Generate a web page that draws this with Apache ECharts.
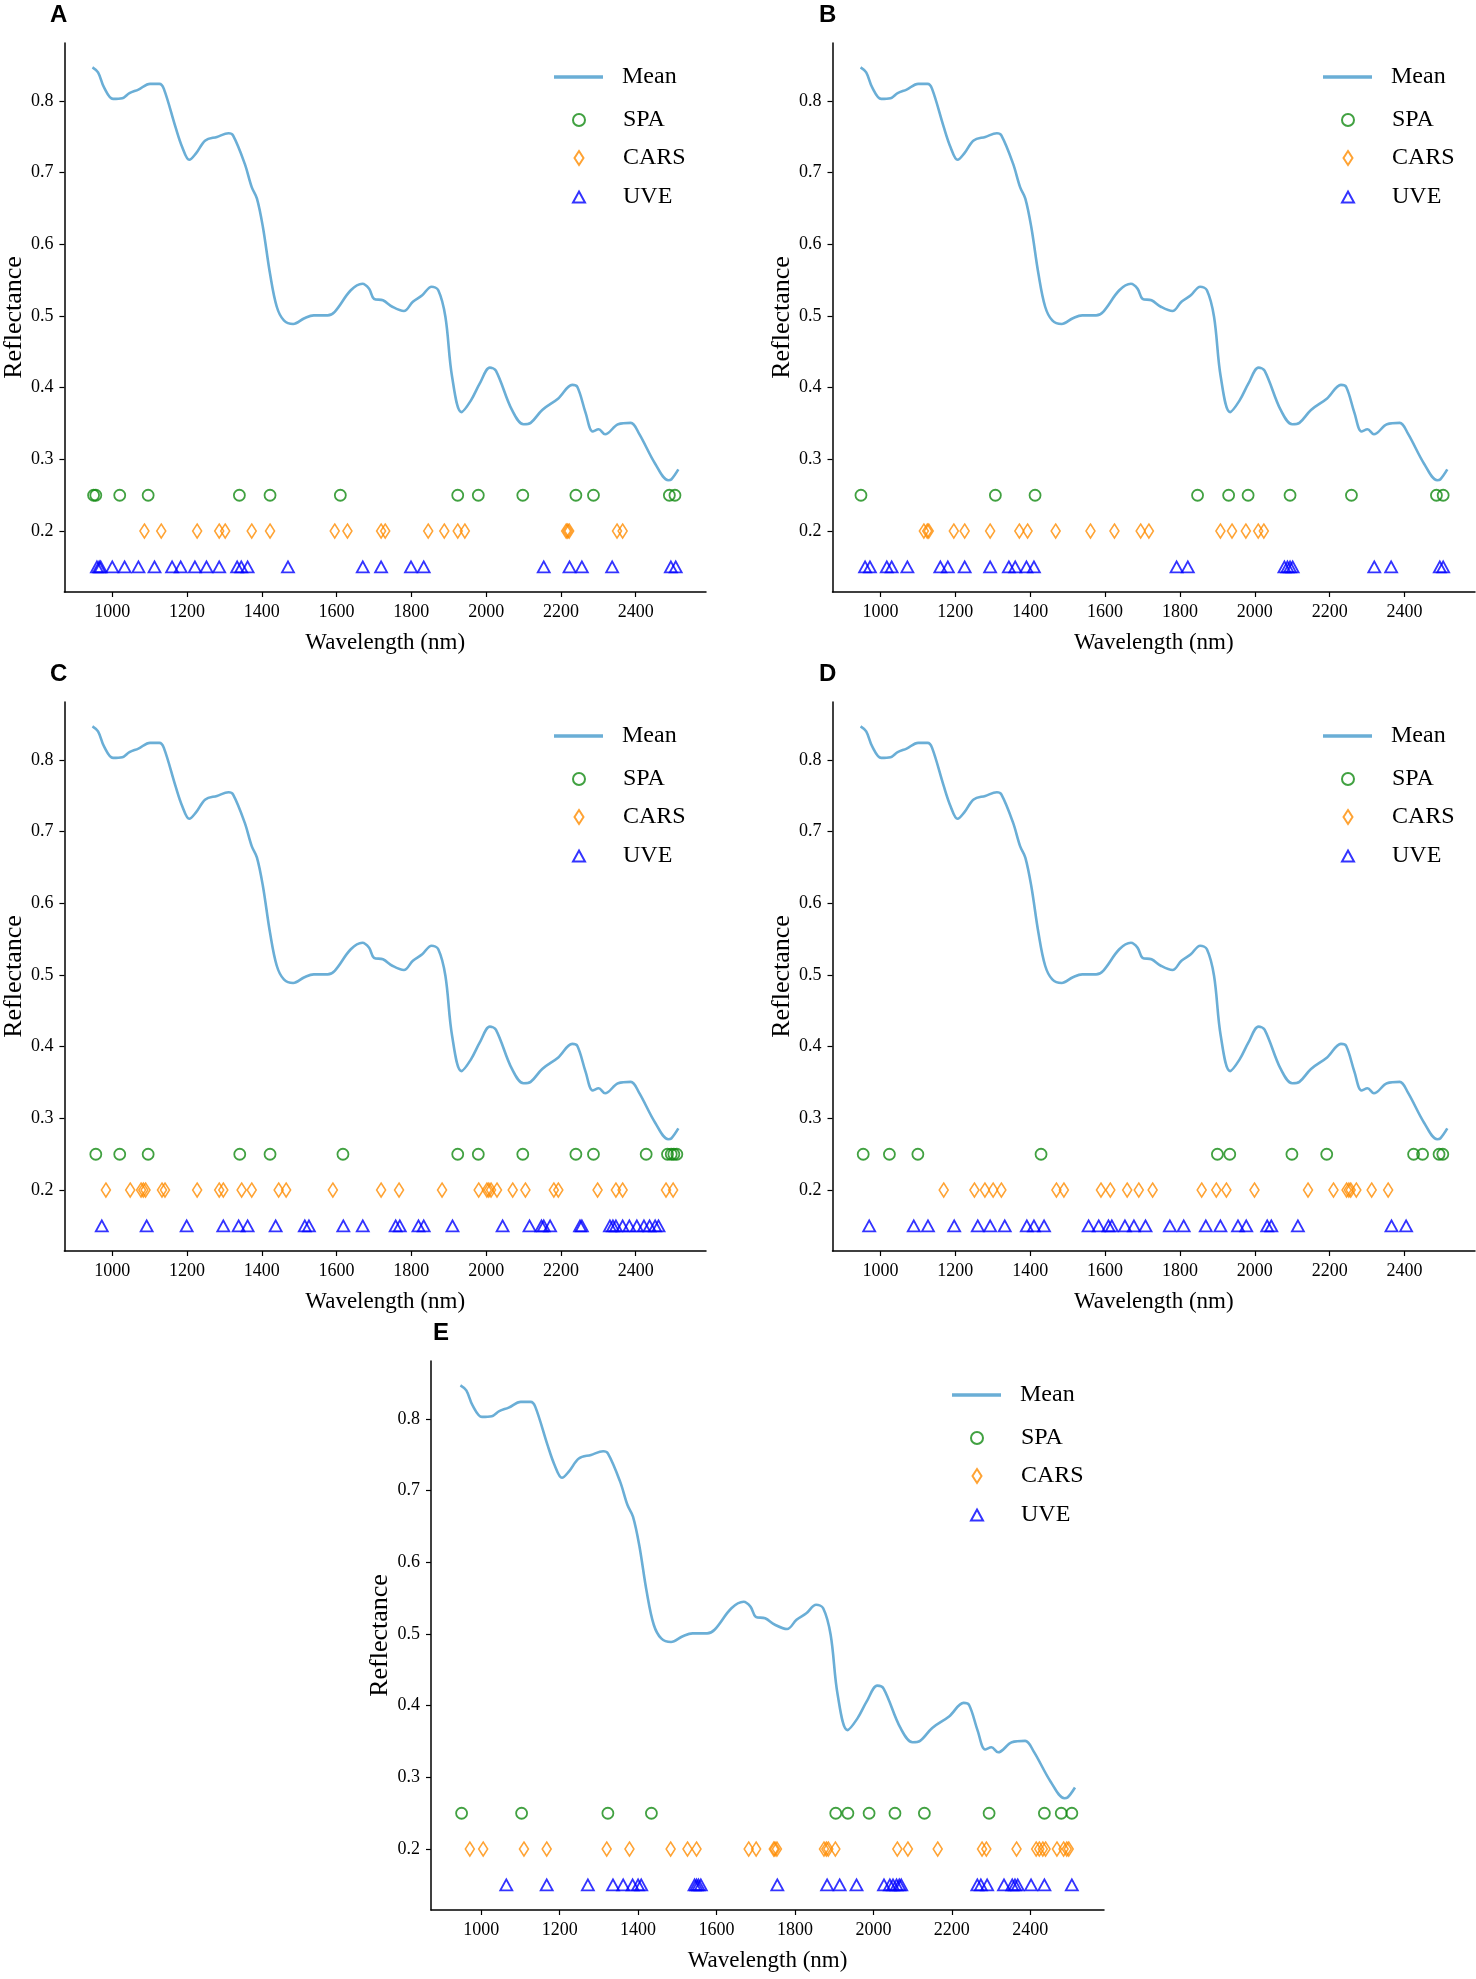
<!DOCTYPE html>
<html><head><meta charset="utf-8">
<script src="https://cdn.jsdelivr.net/npm/echarts@6/dist/echarts.min.js"></script>
<style>html,body{margin:0;padding:0;background:#fff}#c{width:1476px;height:1979px}</style>
</head><body><div id="c"></div>
<script>
// ---- data ----
const wavelength = [947,962,978,1002,1027,1046,1070,1101,1126,1138,1169,1187,1206,1224,1249,1280,1311,1323,1354,1373,1387,1403,1422,1440,1459,1484,1514,1539,1576,1595,1638,1669,1687,1700,1724,1749,1780,1804,1829,1854,1872,1891,1909,1934,1959,1983,2010,2026,2069,2100,2119,2150,2193,2230,2244,2266,2285,2301,2318,2353,2387,2409,2452,2487,2495,2514];
const meanReflectance = [0.847,0.840,0.819,0.803,0.804,0.811,0.816,0.824,0.824,0.817,0.764,0.736,0.718,0.727,0.745,0.750,0.755,0.752,0.713,0.680,0.664,0.624,0.559,0.513,0.494,0.489,0.497,0.501,0.501,0.506,0.536,0.545,0.538,0.524,0.522,0.513,0.507,0.520,0.529,0.541,0.536,0.499,0.415,0.366,0.382,0.406,0.428,0.424,0.369,0.349,0.351,0.369,0.385,0.404,0.401,0.365,0.339,0.342,0.335,0.349,0.351,0.336,0.294,0.271,0.272,0.286];

const spaA = [950,956,1020,1096,1340,1422,1610,1924,1979,2098,2240,2287,2490,2505];
const carsA = [1086,1131,1227,1286,1302,1373,1422,1595,1629,1719,1730,1845,1888,1924,1943,2214,2218,2222,2350,2365];
const uveA = [959,965,969,1000,1033,1070,1113,1160,1183,1221,1252,1286,1334,1345,1362,1470,1670,1719,1799,1833,2154,2223,2256,2337,2494,2507];

const spaB = [948,1307,1413,1847,1930,1982,2094,2258,2485,2503];
const carsB = [1116,1125,1129,1196,1225,1293,1371,1393,1468,1561,1625,1695,1717,1908,1939,1976,2009,2024];
const uveB = [959,972,1017,1030,1072,1160,1180,1225,1293,1343,1360,1390,1410,1791,1821,2079,2087,2094,2101,2319,2364,2494,2503];

const spaC = [956,1020,1096,1341,1422,1617,1924,1979,2098,2240,2287,2428,2485,2495,2502,2510];
const carsC = [983,1048,1077,1083,1089,1133,1141,1227,1286,1297,1346,1373,1445,1465,1590,1719,1767,1882,1980,2002,2007,2013,2029,2071,2105,2181,2193,2298,2347,2365,2481,2500];
const uveC = [972,1092,1199,1297,1338,1362,1437,1515,1526,1618,1670,1758,1769,1819,1833,1910,2044,2116,2148,2154,2171,2251,2256,2331,2339,2347,2365,2383,2403,2422,2437,2452,2461];

const spaD = [954,1024,1100,1429,1900,1933,2099,2192,2424,2448,2492,2502];
const carsD = [1169,1251,1279,1301,1323,1470,1490,1589,1614,1659,1690,1727,1858,1897,1924,1999,2142,2210,2245,2251,2256,2271,2312,2356];
const uveD = [970,1089,1127,1197,1260,1293,1332,1391,1410,1437,1556,1583,1609,1618,1653,1677,1708,1773,1810,1869,1908,1955,1977,2033,2044,2115,2365,2404];

const spaE = [950,1103,1323,1434,1904,1935,1989,2055,2130,2295,2436,2479,2506];
const carsE = [971,1005,1109,1167,1320,1378,1483,1526,1549,1682,1701,1746,1749,1754,1874,1880,1885,1903,2061,2088,2164,2277,2288,2365,2415,2423,2432,2439,2468,2485,2493,2498];
const uveE = [1064,1167,1272,1336,1362,1386,1400,1408,1544,1549,1554,1560,1755,1882,1914,1957,2027,2042,2050,2059,2066,2071,2265,2274,2290,2333,2354,2361,2368,2402,2436,2506];

const xTicks = [1000,1200,1400,1600,1800,2000,2200,2400];
const yTicks = [0.2,0.3,0.4,0.5,0.6,0.7,0.8];
const panelNames = ['A','B','C','D','E'];
const spaLevel = 0.25, carsLevel = 0.2, uveLevel = 0.15;
const selections = [
  [spaA, carsA, uveA],
  [spaB, carsB, uveB],
  [spaC, carsC, uveC],
  [spaD, carsD, uveD],
  [spaE, carsE, uveE]
];

// ---- layout ----
const PH = 549;
const panels = [
  {L:63.5, T:43, W:642.5, labelX:50},
  {L:832.5, T:43, W:642.5, labelX:819},
  {L:63.5, T:702, W:642.5, labelX:50},
  {L:832.5, T:702, W:642.5, labelX:819},
  {L:431, T:1361, W:673, labelX:433}
];
const X_MIN = 872, X_MAX = 2588, Y_MIN = 0.115, Y_MAX = 0.881;
const SERIF = 'Liberation Serif';
const colors = {Mean:'#6aaed6', SPA:'#118a11', CARS:'#ff8c00', UVE:'#0000ff'};

const grid = [], xAxis = [], yAxis = [], series = [], legend = [], title = [];
panels.forEach(({L,T,W,labelX}, p) => {
  grid.push({left:L, top:T, width:W, height:PH, containLabel:false});
  xAxis.push({
    type:'value', gridIndex:p, min:X_MIN, max:X_MAX,
    name:'Wavelength (nm)', nameLocation:'middle', nameGap:39,
    nameTextStyle:{fontFamily:SERIF, fontSize:23, color:'#000'},
    axisLine:{show:true, onZero:false, lineStyle:{color:'#000', width:1.5}},
    axisTick:{show:true, customValues:xTicks, length:5, lineStyle:{color:'#000', width:1.2}},
    axisLabel:{customValues:xTicks, margin:11, fontFamily:SERIF, fontSize:18, color:'#000',
      formatter:v => String(Math.round(v))},
    splitLine:{show:false}
  });
  yAxis.push({
    type:'value', gridIndex:p, min:Y_MIN, max:Y_MAX,
    name:'Reflectance', nameLocation:'middle', nameGap:37, nameRotate:90,
    nameTextStyle:{fontFamily:SERIF, fontSize:26, color:'#000'},
    axisLine:{show:true, onZero:false, lineStyle:{color:'#000', width:1.5}},
    axisTick:{show:true, customValues:yTicks, length:5, lineStyle:{color:'#000', width:1.2}},
    axisLabel:{customValues:yTicks, margin:11, fontFamily:SERIF, fontSize:18, color:'#000',
      formatter:v => Number(v).toFixed(1)},
    splitLine:{show:false}
  });
  series.push({
    name:'Mean', type:'line', xAxisIndex:p, yAxisIndex:p,
    data: wavelength.map((w,i)=>[w, meanReflectance[i]]),
    symbol:'none', smooth:0.35, lineStyle:{color:colors.Mean, width:2.6}, itemStyle:{color:colors.Mean}, z:2
  });
  const [spa, cars, uve] = selections[p];
  series.push({
    name:'SPA', type:'scatter', xAxisIndex:p, yAxisIndex:p,
    data: spa.map(w=>[w, spaLevel]), symbol:'circle', symbolSize:11,
    itemStyle:{color:'rgba(0,0,0,0)', borderColor:colors.SPA, borderWidth:1.8}, z:3
  });
  series.push({
    name:'CARS', type:'scatter', xAxisIndex:p, yAxisIndex:p,
    data: cars.map(w=>[w, carsLevel]), symbol:'diamond', symbolSize:[9,14],
    itemStyle:{color:'rgba(0,0,0,0)', borderColor:colors.CARS, borderWidth:1.6}, z:3
  });
  series.push({
    name:'UVE', type:'scatter', xAxisIndex:p, yAxisIndex:p,
    data: uve.map(w=>[w, uveLevel]), symbol:'triangle', symbolSize:[12,11],
    itemStyle:{color:'rgba(0,0,0,0)', borderColor:colors.UVE, borderWidth:1.8}, z:3
  });
  // legend (upper right of each axes)
  const tx = L + W - 84;          // text left
  const mx = tx - 44;             // marker centre
  const ts = pad => ({fontFamily:SERIF, fontSize:24, color:'#000', lineHeight:24, padding:[0,0,0,pad]});
  const common = {orient:'vertical', padding:0, selectedMode:false, itemGap:0};
  legend.push(Object.assign({}, common, {data:[{name:'Mean', icon:'rect'}], left:tx-68, top:T+22, itemWidth:49, itemHeight:3.5, textStyle:ts(14)}));
  legend.push(Object.assign({}, common, {data:['SPA'], left:mx-6, top:T+65, itemWidth:12, itemHeight:12, textStyle:ts(tx-(mx+6)-5)}));
  legend.push(Object.assign({}, common, {data:['CARS'], left:mx-4.5, top:T+103, itemWidth:9, itemHeight:14, textStyle:ts(tx-(mx+4.5)-5)}));
  legend.push(Object.assign({}, common, {data:['UVE'], left:mx-6, top:T+142, itemWidth:12, itemHeight:11, textStyle:ts(tx-(mx+6)-5)}));
  title.push({text:panelNames[p], left:labelX, top:T-40, padding:0,
    textStyle:{fontFamily:'Liberation Sans', fontWeight:'bold', fontSize:24, color:'#000'}});
});

const chart = echarts.init(document.getElementById('c'), null, {renderer:'canvas'});
chart.setOption({animation:false, backgroundColor:'#fff', grid, xAxis, yAxis, series, legend, title});
</script></body></html>
